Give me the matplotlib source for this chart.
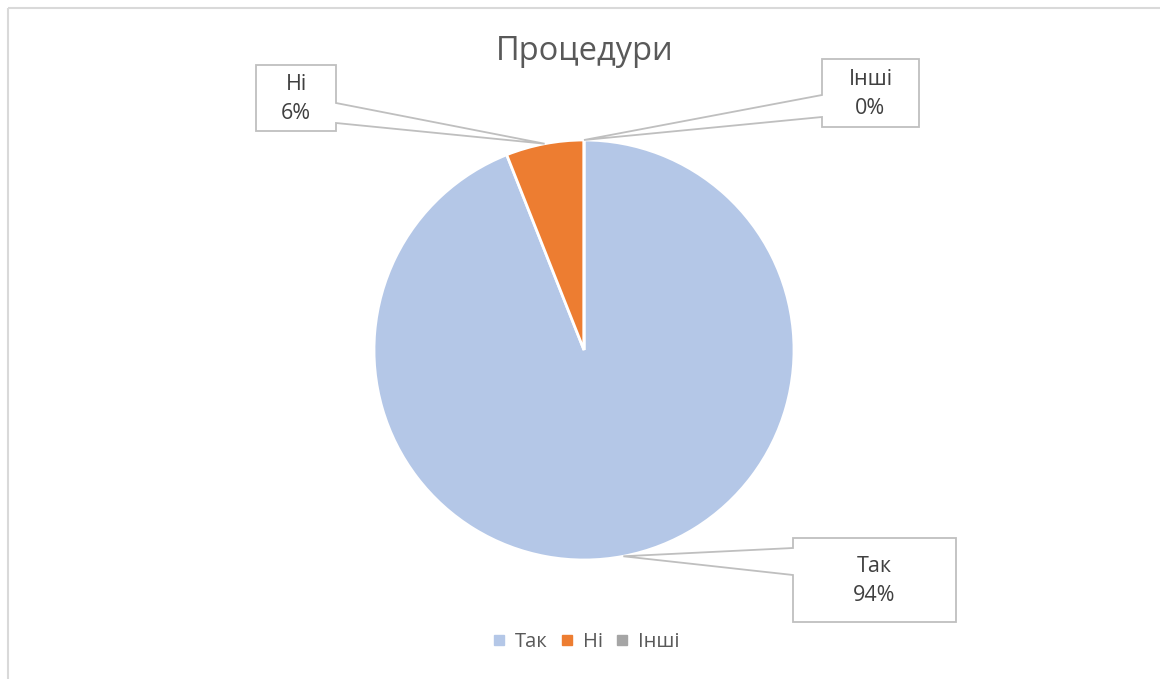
import matplotlib.pyplot as plt
import numpy as np
from matplotlib.patches import Polygon, Rectangle
from matplotlib.lines import Line2D

plt.rcParams['font.family'] = ['Open Sans', 'DejaVu Sans']

# дані
kategorii = ['Так', 'Ні', 'Інші']
vidsotky = [94, 6, 0]
kolory = ['#B4C7E7', '#ED7D31', '#A5A5A5']

W, H = 1160, 679
cx, cy, r = 584, 350, 210   # центр і радіус круга в пікселях

fig = plt.figure(figsize=(W / 100, H / 100), dpi=100)

ax = fig.add_axes([(cx - r) / W, (H - cy - r) / H, 2 * r / W, 2 * r / H])
ax.pie(vidsotky, colors=kolory, startangle=90, counterclock=False,
       wedgeprops=dict(edgecolor='white', linewidth=2))
ax.set_xlim(-1, 1)
ax.set_ylim(-1, 1)
ax.set_aspect('equal')

# накладка в пікселях для підписів
ov = fig.add_axes([0, 0, 1, 1], zorder=5)
ov.set_xlim(0, W)
ov.set_ylim(H, 0)
ov.axis('off')
ov.patch.set_alpha(0)

ov.add_patch(Rectangle((8, 8), W + 20, H + 20, fill=False,
                       edgecolor='#D9D9D9', linewidth=1.5))

ov.text(585, 51, 'Процедури', fontsize=23.5, color='#595959',
        ha='center', va='center')

# рамки підписів: (лівий, правий, верх, низ, сторона, y1, y2)
ramky = [
    (793, 956, 538, 622, 'left', 548, 575),
    (256, 336, 65, 131, 'right', 103, 123),
    (822, 919, 59, 127, 'left', 95, 117),
]

total = sum(vidsotky)
kut = 0
for nazva, v, (x0, x1, y0, y1, side, a1, a2) in zip(kategorii, vidsotky, ramky):
    mid = np.radians((kut + v / 2) / total * 360)
    kut += v
    tx = cx + r * np.sin(mid)
    ty = cy - r * np.cos(mid)
    if side == 'left':
        pts = [(x0, y0), (x1, y0), (x1, y1), (x0, y1), (x0, a2), (tx, ty), (x0, a1)]
    else:
        pts = [(x0, y0), (x1, y0), (x1, a1), (tx, ty), (x1, a2), (x1, y1), (x0, y1)]
    ov.add_patch(Polygon(pts, closed=True, facecolor='white',
                         edgecolor='#BFBFBF', linewidth=1.3))
    ov.text((x0 + x1) / 2, (y0 + y1) / 2 + 1, f'{nazva}\n{v}%', fontsize=15.5,
            color='#404040', ha='center', va='center', linespacing=1.5)

handles = [Line2D([], [], marker='s', linestyle='', markersize=7.5,
                  markerfacecolor=c, markeredgecolor=c) for c in kolory]
fig.legend(handles, kategorii, loc='center', bbox_to_anchor=(586 / W, 1 - 642 / H),
           ncol=3, frameon=False, fontsize=14.5, handlelength=0.7,
           handletextpad=0.45, columnspacing=0.6, labelcolor='#595959')

plt.savefig('out.png', dpi=100)
